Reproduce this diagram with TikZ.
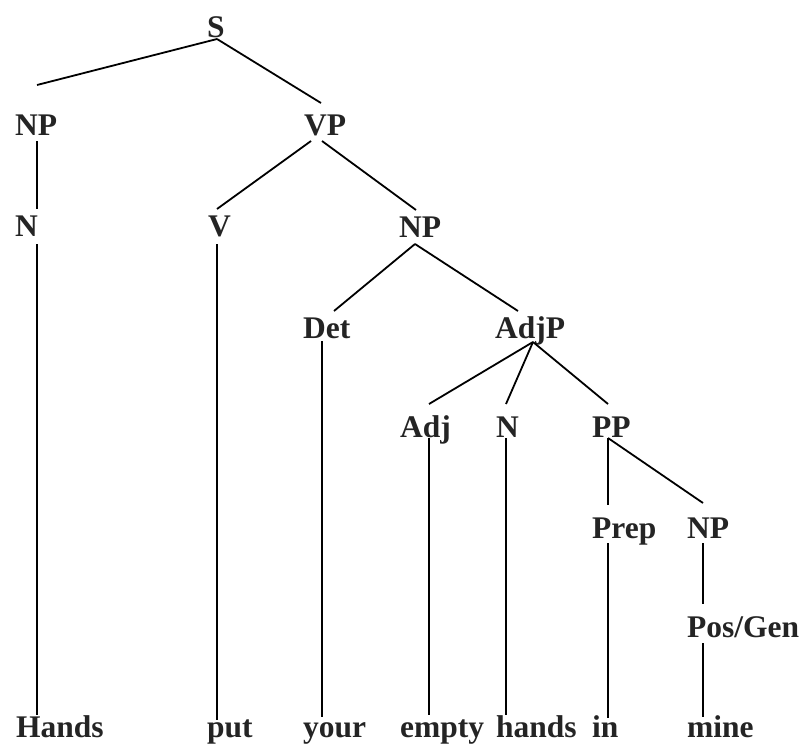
\documentclass[tikz,border=0pt]{standalone}
\usepackage{fontspec}
\setmainfont{Liberation Serif}
\definecolor{txt}{RGB}{36,36,36}
\begin{document}
\begin{tikzpicture}[x=1pt,y=-1pt,
  lab/.style={anchor=base west,inner sep=0pt,text=txt,font=\fontsize{31.5}{36}\selectfont\bfseries},
  edge/.style={line width=1.8pt,black}]
\useasboundingbox (0,0) rectangle (804,747);
% labels
\node[lab] (S) at (207,37) {S};
\node[lab] (NPa) at (15,135) {NP};
\node[lab] (VP) at (304,135) {VP};
\node[lab] (Na) at (15,236) {N};
\node[lab] (V) at (208,236) {V};
\node[lab] (NPb) at (399,237) {NP};
\node[lab] (Det) at (303,338) {Det};
\node[lab] (AdjP) at (495,338) {AdjP};
\node[lab] (Adj) at (400,437) {Adj};
\node[lab] (Nb) at (496,437) {N};
\node[lab] (PP) at (592,437) {PP};
\node[lab] (Prep) at (592,538) {Prep};
\node[lab] (NPc) at (687,538) {NP};
\node[lab] (PosGen) at (687,637) {Pos/Gen};
\node[lab] (Hands) at (16,737) {Hands};
\node[lab] (put) at (207,737) {put};
\node[lab] (your) at (303,737) {your};
\node[lab] (empty) at (400,737) {empty};
\node[lab] (hands) at (496,737) {hands};
\node[lab] (in) at (592,737) {in};
\node[lab] (mine) at (687,737) {mine};
% attachment points
\coordinate (S-b) at (217,39);
\coordinate (NPa-t) at (37,85);
\coordinate (NPa-b) at (37,141);
\coordinate (VP-t) at (321,103);
\coordinate (VP-bl) at (311,141);
\coordinate (VP-br) at (322,141);
\coordinate (Na-t) at (37,209);
\coordinate (Na-b) at (37,244);
\coordinate (V-t) at (217,209);
\coordinate (V-b) at (217,244);
\coordinate (NPb-t) at (416,210);
\coordinate (NPb-b) at (415,244);
\coordinate (Det-t) at (334,311);
\coordinate (Det-b) at (322,341);
\coordinate (AdjP-t) at (518,311);
\coordinate (AdjP-b) at (533,342);
\coordinate (Adj-t) at (429,404);
\coordinate (Adj-b) at (429,438);
\coordinate (Nb-t) at (506,404);
\coordinate (Nb-b) at (506,438);
\coordinate (PP-t) at (608,404);
\coordinate (PP-b) at (608,438);
\coordinate (Prep-t) at (608,505);
\coordinate (Prep-b) at (608,543);
\coordinate (NPc-t) at (703,503);
\coordinate (NPc-b) at (703,543);
\coordinate (PosGen-t) at (703,604);
\coordinate (PosGen-b) at (703,643);
\coordinate (Hands-t) at (37,715);
\coordinate (put-t) at (217,720);
\coordinate (your-t) at (322,717);
\coordinate (empty-t) at (429,715);
\coordinate (hands-t) at (506,715);
\coordinate (in-t) at (608,718);
\coordinate (mine-t) at (703,717);
% connectors
\draw[edge] (S-b) -- (NPa-t);
\draw[edge] (S-b) -- (VP-t);
\draw[edge] (NPa-b) -- (Na-t);
\draw[edge] (Na-b) -- (Hands-t);
\draw[edge] (VP-bl) -- (V-t);
\draw[edge] (VP-br) -- (NPb-t);
\draw[edge] (V-b) -- (put-t);
\draw[edge] (NPb-b) -- (Det-t);
\draw[edge] (NPb-b) -- (AdjP-t);
\draw[edge] (Det-b) -- (your-t);
\draw[edge] (AdjP-b) -- (Adj-t);
\draw[edge] (AdjP-b) -- (Nb-t);
\draw[edge] (AdjP-b) -- (PP-t);
\draw[edge] (Adj-b) -- (empty-t);
\draw[edge] (Nb-b) -- (hands-t);
\draw[edge] (PP-b) -- (Prep-t);
\draw[edge] (PP-b) -- (NPc-t);
\draw[edge] (Prep-b) -- (in-t);
\draw[edge] (NPc-b) -- (PosGen-t);
\draw[edge] (PosGen-b) -- (mine-t);
\end{tikzpicture}
\end{document}
